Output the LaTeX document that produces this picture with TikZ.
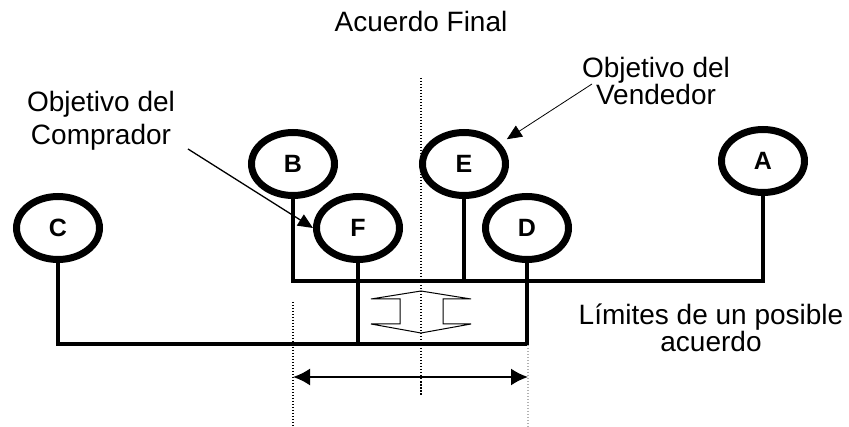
\documentclass[tikz,border=0pt]{standalone}
\usepackage{fontspec}
\setmainfont{Liberation Sans}
\usetikzlibrary{calc, arrows.meta, shapes.geometric}

\begin{document}
\begin{tikzpicture}[x=1pt,y=-1pt,inner sep=0pt,>={Latex[length=17pt,width=17pt]},
  goal/.style={draw,ellipse,line width=7pt,minimum width=83pt,minimum height=63pt,font=\fontsize{25}{25}\selectfont\bfseries},
  bar/.style={line width=4pt},
  note/.style={font=\fontsize{28}{33}\selectfont,align=center},
  pointer/.style={-{Triangle[length=15pt,width=13pt]},line width=1.3pt},
  guide/.style={line width=1.5pt,dash pattern=on 1.5pt off 1.5pt}]
\useasboundingbox (0,0) rectangle (849,427);
\draw node [goal] (C) at (58,228)  {C};
\draw node [goal] (B) at (293,164) {B};
\draw node [goal] (F) at (358,228) {F};
\draw node [goal] (E) at (464,164) {E};
\draw node [goal] (D) at (527,228) {D};
\draw node [goal] (A) at (763,161) {A};
\coordinate (up)  at (0,281);
\coordinate (low) at (0,344);
% seller side and buyer side
\draw [bar] (B.south) -- (B.south |- up) -- (A.south |- up) -- (A.south);
\draw [bar] (E.south) -- (E.south |- up);
\draw [bar] (C.south) -- (C.south |- low) -- (D.south |- low) -- (D.south);
\draw [bar] (F.south) -- (F.south |- low);
% guides
\coordinate (mid1) at (421,78);  \coordinate (mid2) at (421,395);
\coordinate (lft1) at (293,302); \coordinate (lft2) at (293,427);
\coordinate (rgt1) at (528,345); \coordinate (rgt2) at (528,427);
\draw [guide] (mid1) -- (mid2);
\draw [guide] (lft1) -- (lft2);
\draw [guide,gray!60] (rgt1) -- (rgt2);
\draw [<->,line width=2pt] (lft1 |- 0,377) -- (rgt1 |- 0,377);
\draw [line width=1pt] (421,291) -- (471,299) -- (443,299) -- (443,324) -- (471,324) -- (421,333)
  -- (371,324) -- (400,324) -- (400,299) -- (371,299) -- cycle;
% texts
\node [note,anchor=base] (final) at (421,32) {Acuerdo Final};
\node [note,anchor=base] (buyer) at (101,145) {Objetivo del\\Comprador};
\node [note,anchor=base,font=\fontsize{28}{27}\selectfont] (seller) at (656,105) {Objetivo del\\Vendedor};
\node [note,anchor=base,font=\fontsize{28}{27}\selectfont] (range) at (711,352) {L\'imites de un posible\\acuerdo};
\coordinate (bt) at (188,149);
\coordinate (st) at (592,84);
\draw [pointer] (bt) -- (F.west);
\draw [pointer,line width=0.8pt] (st) -- ([xshift=11pt]E.north east);
\end{tikzpicture}
\end{document}
